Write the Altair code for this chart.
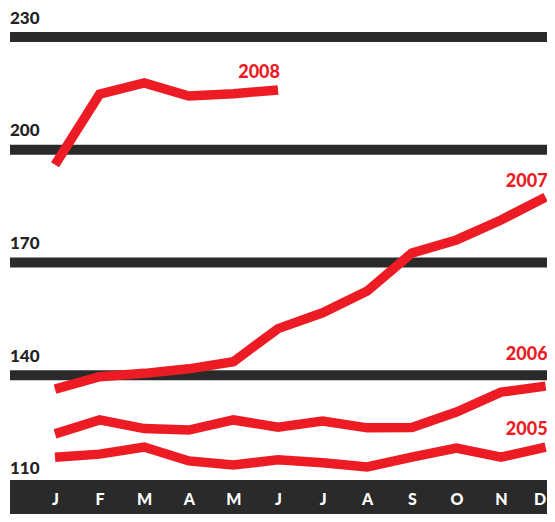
import altair as alt
import pandas as pd

months = ["J", "F", "M", "A", "M", "J", "J", "A", "S", "O", "N", "D"]
years = ["2005", "2006", "2007", "2008"]
y2005 = [118.2, 119.0, 120.9, 117.2, 116.1, 117.5, 116.7, 115.6, 118.2, 120.6, 118.2, 120.9]
y2006 = [124.4, 128.1, 125.8, 125.4, 128.1, 126.2, 127.8, 126.0, 126.1, 130.2, 135.5, 137.1]
y2007 = [136.3, 139.6, 140.5, 141.7, 143.6, 152.4, 156.6, 162.4, 172.5, 176.0, 181.3, 187.4]
y2008 = [196.0, 214.8, 217.8, 214.3, 214.9, 215.9]
y_ticks = [110, 140, 170, 200, 230]
label_values = [125.4, 145.4, 191.4, 220.4]

RED = "#ed1c24"
DARK = "#2a2a2a"
FONT = "Lato"

series = {"2005": y2005, "2006": y2006, "2007": y2007, "2008": y2008}
rows = []
for yr, vals in series.items():
    for i, v in enumerate(vals):
        rows.append({"year": yr, "m": i, "value": v})
df = pd.DataFrame(rows)

lab = pd.DataFrame({
    "year": years,
    "m": [len(series[y]) - 1 for y in years],
    "value": label_values,
})
ticks = pd.DataFrame({"value": y_ticks, "label": [str(t) for t in y_ticks]})

W, H = 539, 506
xdom = [-1.054, -1.054 + W / 44.6]
ydom = [237.72 - H / 3.758, 237.72]
xscale = alt.Scale(domain=xdom, nice=False, zero=False)
yscale = alt.Scale(domain=ydom, nice=False, zero=False)

label_expr = "[" + ",".join("'%s'" % m for m in months) + "][datum.value]"
last_m = len(months) - 1

band = alt.Chart(pd.DataFrame({"a": [0]})).mark_rect(color=DARK).encode(
    x=alt.value(2), x2=alt.value(W), y=alt.value(472), y2=alt.value(H)
)

grid = alt.Chart(ticks[ticks.value > 110]).mark_rule(color=DARK, strokeWidth=10).encode(
    y=alt.Y("value:Q", scale=yscale, axis=None),
    x=alt.value(2), x2=alt.value(W),
)

ylabels = alt.Chart(ticks).mark_text(
    align="left", baseline="alphabetic", dy=-13.5, font=FONT, fontWeight=900,
    fontSize=17, color="#222222"
).encode(
    y=alt.Y("value:Q", scale=yscale, axis=None),
    x=alt.value(2),
    text="label:N",
)

lines = alt.Chart(df).mark_line(color=RED, strokeWidth=9.5, strokeCap="butt", strokeJoin="miter").encode(
    x=alt.X("m:Q", scale=xscale, axis=alt.Axis(
        values=list(range(12)), labelExpr=label_expr, domain=False, ticks=False,
        grid=False, offset=-23, labelPadding=0, labelColor="white", labelFont=FONT,
        labelFontWeight=900, labelFontSize=16, title=None, labelFlush=False,
        labelAlign={"condition": {"test": "datum.value == %d" % last_m, "value": "right"}, "value": "center"},
        zindex=2,
    )),
    y=alt.Y("value:Q", scale=yscale, axis=None),
    detail="year:N",
)

ylab_years = alt.Chart(lab).mark_text(
    align="right", baseline="middle", font=FONT, fontWeight=900, fontSize=18,
    color=RED, dx=2
).encode(
    x=alt.X("m:Q", scale=xscale),
    y=alt.Y("value:Q", scale=yscale),
    text="year:N",
)

chart = alt.layer(band, grid, ylabels, lines, ylab_years).properties(
    width=W, height=H, autosize=alt.AutoSizeParams(type="none"), padding=0,
    background="white",
).configure_view(stroke=None)

chart.save("out.html", embed_options={"renderer": "svg", "actions": False})
